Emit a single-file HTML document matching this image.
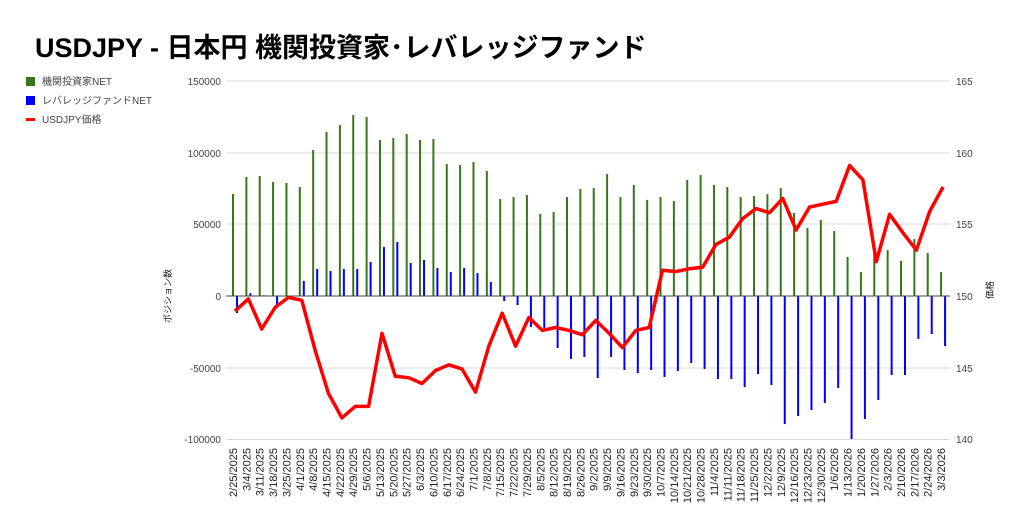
<!DOCTYPE html>
<html><head><meta charset="utf-8"><style>
html,body{margin:0;padding:0;background:#fff;}
svg{display:block;font-family:"Liberation Sans","Noto Sans CJK JP",sans-serif;}
</style></head><body>
<svg id="s" width="1024" height="521" viewBox="0 0 1024 521" xmlns="http://www.w3.org/2000/svg">
<rect width="1024" height="521" fill="#fff"/>
<text x="35" y="57" font-size="27" font-weight="bold" fill="#000">USDJPY - 日本円 機関投資家･レバレッジファンド</text>
<rect x="26" y="77" width="9" height="9" fill="#38761d"/>
<text x="42" y="85" font-size="10" fill="#444">機関投資家NET</text>
<rect x="26" y="96" width="9" height="9" fill="#0000ff"/>
<text x="42" y="104" font-size="10" fill="#444">レバレッジファンドNET</text>
<rect x="26" y="118" width="9" height="3" fill="#ff0000"/>
<text x="42" y="123" font-size="10" fill="#444">USDJPY価格</text>
<g stroke="#d9d9d9" stroke-width="1">
<line x1="226" x2="950" y1="81" y2="81"/>
<line x1="226" x2="950" y1="153" y2="153"/>
<line x1="226" x2="950" y1="224" y2="224"/>
<line x1="226" x2="950" y1="368" y2="368"/>
<line x1="226" x2="950" y1="439.5" y2="439.5"/>
</g>
<g font-size="10" fill="#444" text-anchor="end">
<text x="221" y="85">150000</text>
<text x="221" y="157">100000</text>
<text x="221" y="228">50000</text>
<text x="221" y="300">0</text>
<text x="221" y="372">-50000</text>
<text x="221" y="443">-100000</text>
</g>
<g font-size="10" fill="#444">
<text x="956" y="85">165</text>
<text x="956" y="157">160</text>
<text x="956" y="228">155</text>
<text x="956" y="300">150</text>
<text x="956" y="372">145</text>
<text x="956" y="443">140</text>
</g>
<text transform="translate(171,296) rotate(-90)" font-size="9" fill="#222" text-anchor="middle">ポジション数</text>
<text transform="translate(993,290) rotate(-90)" font-size="9" fill="#222" text-anchor="middle">価格</text>
<g id="bars"></g>
<line x1="226" x2="950" y1="296" y2="296" stroke="#444" stroke-width="1"/>
<polyline id="price" fill="none" stroke="#ff0000" stroke-width="3.5" stroke-linejoin="round"/>
<g font-size="11" fill="#222" text-anchor="end">
<text transform="translate(237,448) rotate(-90)">2/25/2025</text>
<text transform="translate(250.4,448) rotate(-90)">3/4/2025</text>
<text transform="translate(263.7,448) rotate(-90)">3/11/2025</text>
<text transform="translate(277.1,448) rotate(-90)">3/18/2025</text>
<text transform="translate(290.4,448) rotate(-90)">3/25/2025</text>
<text transform="translate(303.8,448) rotate(-90)">4/1/2025</text>
<text transform="translate(317.2,448) rotate(-90)">4/8/2025</text>
<text transform="translate(330.5,448) rotate(-90)">4/15/2025</text>
<text transform="translate(343.9,448) rotate(-90)">4/22/2025</text>
<text transform="translate(357.2,448) rotate(-90)">4/29/2025</text>
<text transform="translate(370.6,448) rotate(-90)">5/6/2025</text>
<text transform="translate(384,448) rotate(-90)">5/13/2025</text>
<text transform="translate(397.3,448) rotate(-90)">5/20/2025</text>
<text transform="translate(410.7,448) rotate(-90)">5/27/2025</text>
<text transform="translate(424,448) rotate(-90)">6/3/2025</text>
<text transform="translate(437.4,448) rotate(-90)">6/10/2025</text>
<text transform="translate(450.8,448) rotate(-90)">6/17/2025</text>
<text transform="translate(464.1,448) rotate(-90)">6/24/2025</text>
<text transform="translate(477.5,448) rotate(-90)">7/1/2025</text>
<text transform="translate(490.8,448) rotate(-90)">7/8/2025</text>
<text transform="translate(504.2,448) rotate(-90)">7/15/2025</text>
<text transform="translate(517.6,448) rotate(-90)">7/22/2025</text>
<text transform="translate(530.9,448) rotate(-90)">7/29/2025</text>
<text transform="translate(544.3,448) rotate(-90)">8/5/2025</text>
<text transform="translate(557.6,448) rotate(-90)">8/12/2025</text>
<text transform="translate(571,448) rotate(-90)">8/19/2025</text>
<text transform="translate(584.4,448) rotate(-90)">8/26/2025</text>
<text transform="translate(597.7,448) rotate(-90)">9/2/2025</text>
<text transform="translate(611.1,448) rotate(-90)">9/9/2025</text>
<text transform="translate(624.4,448) rotate(-90)">9/16/2025</text>
<text transform="translate(637.8,448) rotate(-90)">9/23/2025</text>
<text transform="translate(651.2,448) rotate(-90)">9/30/2025</text>
<text transform="translate(664.5,448) rotate(-90)">10/7/2025</text>
<text transform="translate(677.9,448) rotate(-90)">10/14/2025</text>
<text transform="translate(691.2,448) rotate(-90)">10/21/2025</text>
<text transform="translate(704.6,448) rotate(-90)">10/28/2025</text>
<text transform="translate(718,448) rotate(-90)">11/4/2025</text>
<text transform="translate(731.3,448) rotate(-90)">11/11/2025</text>
<text transform="translate(744.7,448) rotate(-90)">11/18/2025</text>
<text transform="translate(758,448) rotate(-90)">11/25/2025</text>
<text transform="translate(771.4,448) rotate(-90)">12/2/2025</text>
<text transform="translate(784.8,448) rotate(-90)">12/9/2025</text>
<text transform="translate(798.1,448) rotate(-90)">12/16/2025</text>
<text transform="translate(811.5,448) rotate(-90)">12/23/2025</text>
<text transform="translate(824.8,448) rotate(-90)">12/30/2025</text>
<text transform="translate(838.2,448) rotate(-90)">1/6/2026</text>
<text transform="translate(851.6,448) rotate(-90)">1/13/2026</text>
<text transform="translate(864.9,448) rotate(-90)">1/20/2026</text>
<text transform="translate(878.3,448) rotate(-90)">1/27/2026</text>
<text transform="translate(891.6,448) rotate(-90)">2/3/2026</text>
<text transform="translate(905,448) rotate(-90)">2/10/2026</text>
<text transform="translate(918.4,448) rotate(-90)">2/17/2026</text>
<text transform="translate(931.7,448) rotate(-90)">2/24/2026</text>
<text transform="translate(945.1,448) rotate(-90)">3/3/2026</text>
</g>
</svg>
<script>
var G=[71100,83000,83700,79500,78800,76000,101800,114400,119200,126200,124800,108800,110200,113000,108800,109500,92000,91300,93400,87200,67600,69000,70400,57200,58600,69000,74600,75300,85000,69000,77400,67000,69000,66200,81000,84400,77400,76000,69000,69700,71100,75300,57900,47400,53000,45300,27200,16700,30000,32000,24400,39700,30000,16700];
var B=[-11900,2000,500,-6300,0,10500,18800,17400,18800,18800,23700,34200,37700,23000,25100,19500,16700,19500,16000,9800,-3500,-6300,-21600,-22300,-36300,-43900,-42500,-57200,-42500,-51600,-53700,-51600,-56500,-52300,-46700,-50900,-57900,-57900,-63500,-54400,-62100,-89300,-83700,-79500,-74600,-64200,-99700,-85800,-72500,-55100,-55100,-30000,-26500,-34900];
var P=[148.95,149.8,147.7,149.2,149.9,149.7,146.2,143.2,141.5,142.3,142.3,147.4,144.4,144.3,143.9,144.8,145.2,144.9,143.3,146.5,148.8,146.5,148.5,147.6,147.8,147.6,147.3,148.3,147.4,146.4,147.6,147.8,151.8,151.7,151.9,152.0,153.6,154.1,155.4,156.1,155.8,156.8,154.6,156.2,156.4,156.6,159.1,158.1,152.4,155.7,154.4,153.2,155.9,157.6];
var ns="http://www.w3.org/2000/svg",g=document.getElementById("bars"),pts=[];
function Y(v){return 296-v/50000*71.7;}
for(var i=0;i<54;i++){var x=233+13.36*i;
 [[G[i],x-1,"#38761d"],[B[i],x+3,"#0000ff"]].forEach(function(a){var r=document.createElementNS(ns,"rect");var y1=Y(a[0]);r.setAttribute("x",a[1]);r.setAttribute("width",2);r.setAttribute("y",Math.min(y1,296));r.setAttribute("height",Math.abs(y1-296));r.setAttribute("fill",a[2]);g.appendChild(r);});
 pts.push((x+2).toFixed(1)+","+(296-(P[i]-150)*14.34).toFixed(1));}
document.getElementById("price").setAttribute("points",pts.join(" "));
</script>
</body></html>
